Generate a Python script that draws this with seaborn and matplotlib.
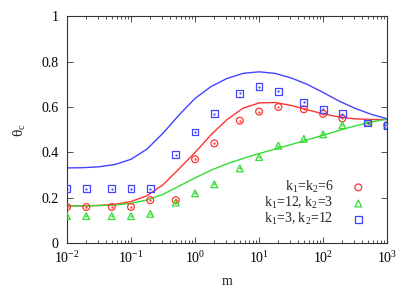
import numpy as np
import pandas as pd
import matplotlib
matplotlib.use("Agg")
import matplotlib.pyplot as plt
import seaborn as sns

# === Data ===
m_pts = [0.01, 0.02, 0.05, 0.1, 0.2, 0.5, 1, 2, 5, 10, 20, 50, 100, 200, 500, 1000]
sim_k6_6 = [0.16, 0.16, 0.16, 0.16, 0.19, 0.19, 0.37, 0.44, 0.54, 0.58, 0.60, 0.59, 0.57, 0.55, 0.53, 0.52]
sim_k12_3 = [0.12, 0.12, 0.12, 0.12, 0.13, 0.18, 0.22, 0.26, 0.33, 0.38, 0.43, 0.46, 0.48, 0.52, 0.53, 0.52]
sim_k3_12 = [0.24, 0.24, 0.24, 0.24, 0.24, 0.39, 0.49, 0.57, 0.66, 0.69, 0.67, 0.62, 0.59, 0.57, 0.53, 0.52]

# theory curves, sampled every quarter decade
log_m_curve = [-2, -1.75, -1.5, -1.25, -1, -0.75, -0.5, -0.25, 0, 0.25, 0.5,
               0.75, 1, 1.25, 1.5, 1.75, 2, 2.25, 2.5, 2.75, 3]
th_k6_6 = [0.165, 0.165, 0.167, 0.172, 0.184, 0.21, 0.258, 0.328, 0.40, 0.478, 0.545,
           0.595, 0.618, 0.62, 0.607, 0.588, 0.57, 0.556, 0.548, 0.545, 0.545]
th_k12_3 = [0.165, 0.165, 0.166, 0.169, 0.176, 0.191, 0.216, 0.252, 0.288, 0.322, 0.35,
            0.374, 0.395, 0.415, 0.435, 0.455, 0.476, 0.497, 0.517, 0.534, 0.547]
th_k3_12 = [0.332, 0.333, 0.337, 0.347, 0.37, 0.415, 0.485, 0.565, 0.638, 0.69, 0.726,
            0.748, 0.755, 0.748, 0.728, 0.70, 0.664, 0.626, 0.594, 0.568, 0.548]

labels = [r'k$_1$=k$_2$=6', r'k$_1$=12, k$_2$=3', r'k$_1$=3, k$_2$=12']
colors = ['#ff3333', '#33dd33', '#4444ff']
markers = ['o', '^', 's']

# === Style ===
sns.set_style('ticks')
plt.rcParams['font.family'] = ['Liberation Serif', 'DejaVu Serif']
plt.rcParams['mathtext.fontset'] = 'custom'
plt.rcParams['mathtext.rm'] = 'Liberation Serif'
plt.rcParams['mathtext.it'] = 'Liberation Serif:italic'
plt.rcParams['font.size'] = 10

fig = plt.figure(figsize=(4.11, 2.88), dpi=100)
ax = fig.add_axes([0.163, 0.155, 0.779, 0.789])

m_curve = 10.0 ** np.array(log_m_curve)
curves = [th_k6_6, th_k12_3, th_k3_12]
sims = [sim_k6_6, sim_k12_3, sim_k3_12]

for th, c in zip(curves, colors):
    df_c = pd.DataFrame({'m': m_curve, 'theta': th})
    sns.lineplot(data=df_c, x='m', y='theta', color=c, lw=1.0, ax=ax)

for sim, c, mk, lab in zip(sims, colors, markers, labels):
    df_s = pd.DataFrame({'m': m_pts, 'theta': sim})
    sns.scatterplot(data=df_s, x='m', y='theta', marker=mk, s=24, facecolors='none',
                    edgecolor=c, linewidth=0.9, label=lab, ax=ax, zorder=3)
    ax.scatter(m_pts, sim, marker='.', s=1.5, color=c, zorder=4)

ax.set_xscale('log')
ax.set_xlim(0.01, 1000)
ax.set_ylim(0, 1)
ax.set_yticks([0, 0.2, 0.4, 0.6, 0.8, 1])
ax.set_yticklabels(['0', '0.2', '0.4', '0.6', '0.8', '1'])
ax.set_xlabel('m', fontsize=10, labelpad=6)
ax.set_ylabel(r'θ$_\mathrm{c}$', fontsize=11, labelpad=10)
ax.tick_params(which='both', direction='in', top=True, right=True, width=0.6, colors='#333333',
               labelcolor='black', labelsize=10)
ax.tick_params(axis='y', which='major', length=4, pad=6)
ax.tick_params(axis='x', which='major', length=4, pad=5)
ax.tick_params(which='minor', length=2)
for sp in ax.spines.values():
    sp.set_linewidth(0.8)
    sp.set_color('#333333')

ax.legend(loc='lower right', bbox_to_anchor=(0.975, 0.04), markerfirst=False, frameon=False,
          borderpad=0, handletextpad=0.8, labelspacing=0.0, fontsize=10)

fig.savefig('out.png', dpi=100)
